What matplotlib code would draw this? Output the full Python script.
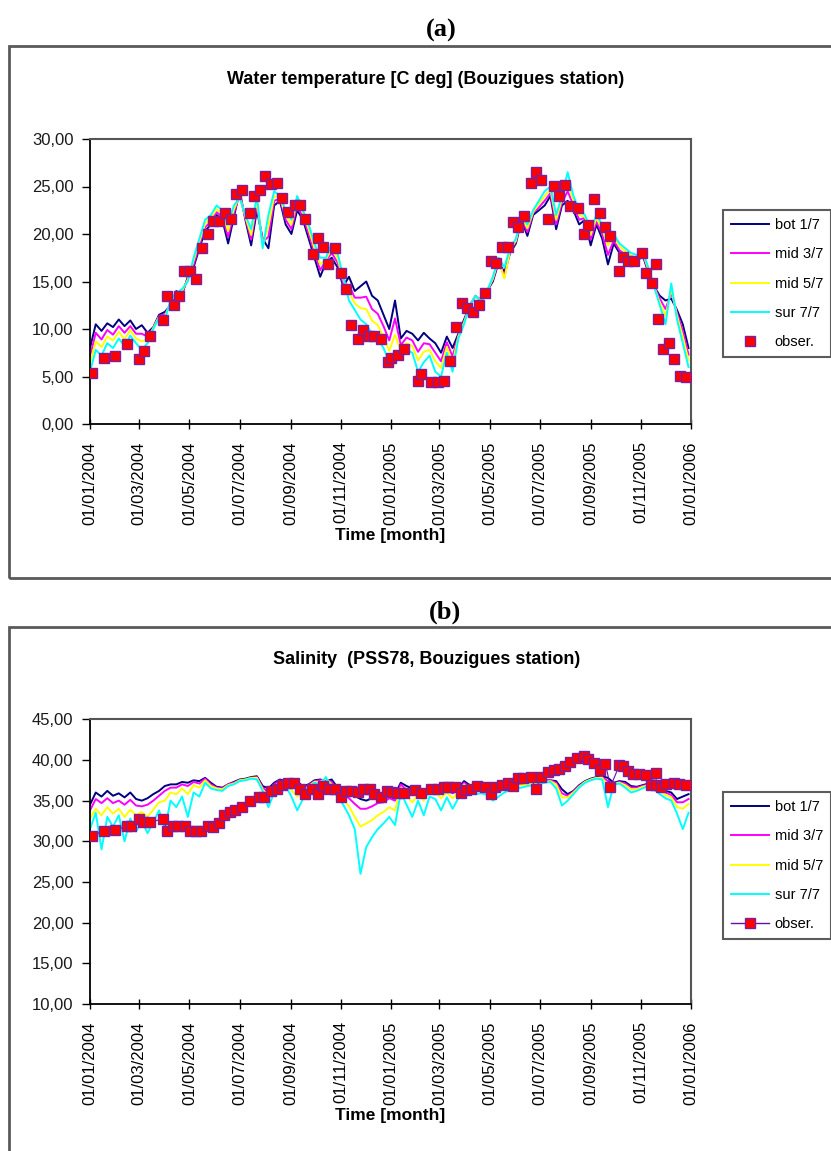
import numpy as np
import pandas as pd
import matplotlib
matplotlib.use("Agg")
import matplotlib.pyplot as plt
import matplotlib.dates as mdates
from matplotlib.patches import Rectangle
from matplotlib.lines import Line2D
from matplotlib.ticker import FuncFormatter, MultipleLocator

plt.rcParams['font.family'] = ['Liberation Sans', 'DejaVu Sans']

# ---------------- data ----------------
start_date = "2004-01-01"
n_weeks = 105  # model output sampled weekly

# Panel (a) : water temperature
temp_bot = [8.0, 10.5, 9.8, 10.6, 10.2, 11.0, 10.3, 10.9, 10.0, 10.4, 9.6, 10.2, 11.5, 11.8, 12.5,
            14.0, 13.6, 15.5, 16.5, 18.5, 20.3, 21.0, 22.0, 21.5, 19.0, 21.8, 24.5, 21.5, 18.8, 22.5,
            19.5, 18.5, 23.0, 23.5, 21.0, 20.0, 22.5, 21.5, 19.5, 17.5, 15.5, 17.0, 17.5, 16.5, 14.5,
            15.5, 14.0, 14.5, 15.0, 13.5, 13.0, 11.5, 10.0, 13.0, 9.0, 9.8, 9.5, 8.8, 9.6, 9.0,
            8.5, 7.5, 9.2, 8.0, 9.5, 11.0, 12.5, 13.5, 13.0, 14.0, 15.0, 17.0, 16.0, 18.0, 19.0,
            21.5, 19.8, 22.0, 22.5, 23.0, 24.0, 20.5, 23.0, 23.5, 22.5, 21.0, 21.5, 18.8, 21.0, 19.5,
            16.8, 19.0, 18.0, 17.5, 17.2, 17.0, 17.8, 16.0, 14.5, 13.5, 13.0, 13.2, 12.0, 10.5, 8.0]
temp_mid3 = [7.1, 9.6, 8.9, 9.9, 9.4, 10.3, 9.6, 10.3, 9.5, 9.5, 9.2, 10.1, 11.4, 11.5, 12.7,
             13.9, 13.8, 15.3, 16.8, 18.8, 20.7, 21.3, 22.3, 21.8, 19.7, 22.2, 24.2, 21.7, 19.4, 23.0,
             19.2, 19.7, 23.5, 23.7, 21.5, 20.5, 23.0, 21.8, 20.0, 18.0, 16.2, 17.2, 18.0, 17.0, 14.8,
             14.6, 13.3, 13.3, 13.4, 12.1, 11.6, 10.3, 8.8, 11.1, 8.3, 9.1, 8.8, 7.6, 8.5, 8.4,
             7.5, 6.6, 8.6, 7.1, 9.3, 10.8, 12.5, 13.5, 12.9, 14.0, 15.2, 17.2, 15.5, 18.2, 19.2,
             21.7, 20.2, 22.2, 22.8, 23.5, 24.3, 21.0, 23.3, 24.5, 23.0, 21.5, 21.7, 19.4, 21.3, 20.0,
             17.8, 19.3, 18.3, 17.8, 17.5, 17.3, 17.9, 16.2, 14.5, 13.2, 12.1, 13.8, 11.7, 9.8, 7.3]
temp_mid5 = [6.4, 8.7, 8.1, 9.2, 8.8, 9.7, 8.9, 9.9, 9.0, 8.7, 8.9, 10.1, 11.3, 11.3, 12.8,
             13.9, 14.0, 15.2, 17.2, 19.2, 21.1, 21.7, 22.6, 22.2, 20.3, 22.6, 24.0, 21.8, 19.9, 23.5,
             18.8, 20.8, 24.0, 23.8, 22.0, 21.0, 23.5, 22.2, 20.5, 18.5, 16.8, 17.3, 18.5, 17.5, 15.2,
             13.9, 12.7, 12.2, 12.1, 10.9, 10.4, 9.2, 7.7, 9.4, 7.7, 8.5, 8.2, 6.7, 7.6, 7.8,
             6.6, 5.9, 8.1, 6.4, 9.2, 10.7, 12.5, 13.5, 12.9, 14.0, 15.3, 17.3, 15.3, 18.3, 19.3,
             21.8, 20.6, 22.3, 23.2, 24.0, 24.7, 21.5, 23.7, 25.5, 23.5, 22.0, 21.8, 19.9, 21.7, 20.5,
             18.8, 19.7, 18.7, 18.2, 17.7, 17.5, 18.1, 16.3, 14.5, 12.8, 11.4, 14.2, 11.4, 9.2, 6.7]
temp_sur = [5.5, 7.8, 7.2, 8.5, 8.0, 9.0, 8.2, 9.3, 8.5, 7.8, 8.5, 10.0, 11.2, 11.0, 13.0,
            13.8, 14.2, 15.0, 17.5, 19.5, 21.5, 22.0, 23.0, 22.5, 21.0, 23.0, 23.8, 22.0, 20.5, 24.0,
            18.5, 22.0, 24.5, 24.0, 22.5, 21.5, 24.0, 22.5, 21.0, 19.0, 17.5, 17.5, 19.0, 18.0, 15.5,
            13.0, 12.0, 11.0, 10.5, 9.5, 9.0, 8.0, 6.5, 7.5, 7.0, 7.8, 7.5, 5.5, 6.5, 7.2,
            5.5, 5.0, 7.5, 5.5, 9.0, 10.5, 12.5, 13.5, 12.8, 14.0, 15.5, 17.5, 16.5, 18.5, 19.5,
            22.0, 21.0, 22.5, 23.5, 24.5, 25.0, 22.0, 24.0, 26.5, 24.0, 22.5, 22.0, 20.5, 22.0, 21.0,
            19.8, 20.0, 19.0, 18.5, 18.0, 17.8, 18.2, 16.5, 14.5, 12.5, 10.5, 14.8, 11.0, 8.5, 6.0]

temp_obs_day = [3, 17, 31, 45, 59, 66, 73, 89, 94, 102, 108, 114, 122, 129, 136, 144, 150, 157,
                164, 171, 178, 185, 195, 200, 207, 213, 220, 227, 234, 241, 249, 256, 262, 271,
                277, 284, 290, 298, 305, 311, 318, 326, 332, 339, 345, 354, 362, 366, 375, 382,
                399, 403, 415, 423, 430, 438, 445, 453, 459, 466, 473, 480, 488, 494, 501, 508,
                515, 521, 528, 536, 542, 549, 557, 564, 571, 578, 584, 593, 601, 606, 613, 620,
                626, 633, 644, 648, 654, 662, 671, 676, 683, 688, 691, 697, 704, 710, 718, 725]
temp_obs = [5.33, 7.0, 7.16, 8.46, 6.84, 7.65, 9.26, 10.95, 13.44, 12.49, 13.44, 16.07, 16.07,
            15.23, 18.56, 20.0, 21.33, 21.33, 22.17, 21.58, 24.2, 24.67, 22.17, 23.96, 24.6, 26.07,
            25.26, 25.33, 23.79, 22.3, 23.02, 23.02, 21.54, 17.93, 19.61, 18.63, 16.88, 18.49,
            15.93, 14.17, 10.42, 8.98, 9.89, 9.26, 9.26, 8.98, 6.56, 6.91, 7.26, 7.89, 4.56, 5.26,
            4.46, 4.46, 4.56, 6.67, 10.25, 12.74, 12.25, 11.82, 12.49, 13.82, 17.19, 16.91, 18.6,
            18.6, 21.23, 20.77, 21.9, 25.37, 26.49, 25.72, 21.54, 25.02, 24.0, 25.16, 22.95, 22.74,
            19.96, 20.95, 23.65, 22.25, 20.77, 19.79, 16.14, 17.54, 17.12, 17.12, 17.96, 15.93,
            14.88, 16.81, 11.05, 7.93, 8.49, 6.81, 5.05, 4.98]

# Panel (b) : salinity
sal_bot = [34.5, 36.0, 35.5, 36.2, 35.6, 35.9, 35.4, 36.0, 35.2, 35.0, 35.3, 35.8, 36.2, 36.8, 37.0,
           37.0, 37.3, 37.2, 37.5, 37.4, 37.8, 37.2, 36.7, 36.6, 37.0, 37.3, 37.6, 37.7, 37.9, 38.0,
           36.8, 36.5, 37.2, 37.6, 37.4, 37.2, 37.3, 36.8, 37.0, 37.5, 37.6, 37.4, 37.6, 36.6, 36.3,
           36.0, 35.6, 35.2, 35.0, 35.3, 35.6, 35.5, 36.0, 35.8, 37.2, 36.8, 36.5, 36.4, 36.3, 36.6,
           36.9, 36.6, 36.5, 36.4, 36.6, 37.4, 36.9, 36.7, 36.7, 36.6, 36.5, 36.6, 36.7, 36.9, 37.0,
           37.1, 37.2, 37.3, 37.4, 37.5, 37.5, 37.4, 36.4, 35.8, 36.2, 36.9, 37.4, 37.7, 37.9, 38.0,
           37.8, 37.2, 37.4, 37.3, 36.8, 36.7, 36.9, 37.1, 37.0, 36.6, 36.2, 36.0, 35.2, 35.5, 35.8]
sal_mid3 = [33.8, 35.2, 34.7, 35.3, 34.7, 35.0, 34.5, 35.1, 34.4, 34.3, 34.5, 35.0, 35.6, 36.2, 36.6,
            36.6, 37.0, 36.8, 37.3, 37.1, 37.7, 37.0, 36.6, 36.5, 37.0, 37.2, 37.5, 37.6, 37.8, 37.9,
            36.6, 36.0, 37.0, 37.5, 37.2, 36.8, 36.7, 36.5, 36.9, 37.4, 37.5, 37.5, 37.3, 36.3, 35.8,
            35.3, 34.6, 34.0, 34.0, 34.3, 34.7, 34.8, 35.3, 35.0, 37.0, 36.3, 35.8, 36.1, 35.7, 36.4,
            36.5, 36.0, 36.3, 35.9, 36.3, 37.2, 36.7, 36.5, 36.5, 36.4, 36.2, 36.4, 36.5, 36.8, 36.9,
            37.0, 37.1, 37.2, 37.3, 37.4, 37.5, 37.2, 35.9, 35.6, 36.1, 36.8, 37.3, 37.6, 37.8, 37.9,
            37.4, 37.1, 37.3, 37.1, 36.6, 36.6, 36.8, 37.0, 36.8, 36.4, 36.0, 35.7, 34.8, 34.8, 35.2]
sal_mid5 = [32.8, 34.0, 33.2, 34.2, 33.4, 34.0, 33.0, 33.9, 33.2, 33.6, 33.0, 33.9, 34.8, 35.0, 36.0,
            35.8, 36.5, 35.8, 36.9, 36.6, 37.5, 36.8, 36.5, 36.4, 36.9, 37.1, 37.5, 37.6, 37.8, 37.8,
            36.4, 35.3, 36.6, 37.4, 37.0, 36.3, 35.5, 36.0, 36.8, 37.3, 37.3, 37.7, 37.0, 36.0, 35.2,
            34.3, 33.0, 31.8, 32.2, 32.6, 33.2, 33.6, 34.2, 33.8, 36.6, 35.6, 34.8, 35.7, 35.0, 36.1,
            36.0, 35.3, 36.0, 35.3, 36.0, 37.0, 36.5, 36.3, 36.3, 36.2, 35.8, 36.1, 36.4, 36.6, 36.8,
            36.9, 37.0, 37.1, 37.2, 37.3, 37.4, 37.0, 35.4, 35.4, 36.0, 36.7, 37.3, 37.6, 37.8, 37.8,
            36.8, 37.1, 37.2, 36.9, 36.4, 36.4, 36.7, 36.9, 36.7, 36.2, 35.7, 35.4, 34.2, 34.0, 34.6]
sal_sur = [31.5, 33.5, 29.0, 33.0, 31.8, 33.2, 30.0, 32.8, 31.2, 32.5, 31.0, 32.4, 33.8, 31.5, 35.0,
           34.2, 35.5, 33.0, 36.0, 35.5, 37.2, 36.5, 36.3, 36.2, 36.8, 37.0, 37.4, 37.5, 37.7, 37.6,
           36.2, 34.2, 36.0, 37.2, 36.8, 35.5, 33.8, 35.2, 36.6, 37.2, 37.0, 37.9, 36.4, 35.5, 34.5,
           33.2, 31.5, 26.0, 29.3, 30.5, 31.5, 32.2, 33.0, 32.0, 36.0, 34.5, 33.0, 35.0, 33.2, 35.5,
           35.2, 33.8, 35.4, 34.0, 35.3, 36.6, 36.0, 35.8, 35.9, 35.7, 35.0, 35.5, 36.0, 36.3, 36.5,
           36.6, 36.8, 36.9, 37.0, 37.2, 37.3, 36.5, 34.4, 35.0, 35.8, 36.6, 37.2, 37.5, 37.7, 37.6,
           34.2, 37.0, 37.1, 36.6, 36.0, 36.2, 36.5, 36.8, 36.4, 35.8, 35.3, 35.0, 33.4, 31.5, 33.5]

sal_obs_day = [3, 17, 31, 45, 50, 59, 65, 73, 89, 94, 101, 107, 115, 122, 129, 135, 143, 150, 157,
               163, 170, 176, 185, 195, 206, 212, 220, 227, 234, 241, 248, 256, 262, 270, 277, 284,
               291, 298, 305, 311, 318, 326, 332, 340, 346, 354, 361, 366, 374, 382, 395, 403, 415,
               423, 430, 436, 444, 451, 457, 464, 471, 480, 488, 493, 501, 508, 515, 520, 527, 536,
               542, 549, 557, 564, 571, 578, 584, 592, 601, 606, 613, 620, 627, 633, 644, 648, 654,
               660, 668, 676, 682, 688, 689, 695, 701, 710, 717, 725]
sal_obs = [30.69, 31.3, 31.39, 31.88, 31.88, 32.78, 32.34, 32.34, 32.78, 31.3, 31.88, 31.88, 31.88,
           31.3, 31.3, 31.3, 31.88, 31.72, 32.29, 33.24, 33.57, 33.81, 34.18, 34.96, 35.41, 35.48,
           36.22, 36.47, 36.88, 37.2, 37.2, 36.43, 35.78, 36.43, 35.78, 36.8, 36.47, 36.47, 35.41,
           36.22, 36.22, 36.1, 36.47, 36.47, 35.78, 35.41, 36.22, 36.03, 35.9, 35.9, 36.27, 35.9,
           36.47, 36.47, 36.71, 36.71, 36.71, 35.9, 36.31, 36.43, 36.8, 36.71, 35.78, 36.71, 36.92,
           37.2, 36.84, 37.74, 37.74, 37.87, 36.47, 37.87, 38.56, 38.77, 38.89, 39.26, 39.71, 40.2,
           40.53, 40.12, 39.59, 38.73, 39.5, 36.71, 39.38, 39.26, 38.64, 38.27, 38.23, 38.12, 36.88,
           38.4, 36.88, 36.71, 37.01, 37.13, 37.01, 36.88]

series_labels = ["bot 1/7", "mid 3/7", "mid 5/7", "sur 7/7", "obser."]
series_colors = ["#000080", "#FF00FF", "#FFFF00", "#00FFFF"]

# ---------------- figure ----------------
W, H = 831, 1151
fig = plt.figure(figsize=(W / 100, H / 100), dpi=100)

def fx(px):
    return px / W

def fy(py):
    return 1 - py / H

model_dates = pd.date_range(start_date, periods=n_weeks, freq="7D")
t0 = pd.Timestamp(start_date)

def comma_fmt(v, pos):
    return f"{v:.2f}".replace(".", ",")

def setup_axes(ax, ymin, ymax):
    ax.set_xlim(pd.Timestamp("2004-01-01"), pd.Timestamp("2006-01-01"))
    ax.set_ylim(ymin, ymax)
    ax.yaxis.set_major_locator(MultipleLocator(5))
    ax.yaxis.set_major_formatter(FuncFormatter(comma_fmt))
    ax.xaxis.set_major_locator(mdates.MonthLocator(bymonth=[1, 3, 5, 7, 9, 11], bymonthday=1))
    ax.xaxis.set_major_formatter(mdates.DateFormatter("%d/%m/%Y"))
    ax.tick_params(axis="x", direction="inout", length=7, width=1, labelsize=12,
                   rotation=90, pad=9, colors="black")
    ax.tick_params(axis="y", direction="out", length=6, width=1, labelsize=12, pad=6)
    for lab in ax.get_yticklabels():
        lab.set_color("#1a1a1a")
    ax.spines["left"].set_color("black")
    ax.spines["bottom"].set_color("black")
    ax.spines["left"].set_linewidth(1.3)
    ax.spines["bottom"].set_linewidth(1.3)
    ax.spines["top"].set_color("#555555")
    ax.spines["right"].set_color("#555555")
    ax.spines["top"].set_linewidth(1.5)
    ax.spines["right"].set_linewidth(1.5)
    ax.set_xlabel("Time [month]", fontsize=12.5, fontweight="bold", labelpad=2)

def draw_panel(ax, series, obs_day, obs_val, obs_line):
    for vals, col, lab in zip(series, series_colors, series_labels):
        ax.plot(model_dates, vals, color=col, lw=1.4, label=lab, zorder=2)
    obs_dates = [t0 + pd.Timedelta(days=d) for d in obs_day]
    ax.plot(obs_dates, obs_val, linestyle="-" if obs_line else "none",
            color="#6A0DAD", lw=0.8, marker="s", markersize=7.5,
            markerfacecolor="#FF0000", markeredgecolor="#7B1FA2", markeredgewidth=1.0,
            label=series_labels[4], zorder=3)

def add_legend(ax, top_px, obs_line):
    handles = [Line2D([], [], color=c, lw=1.4) for c in series_colors]
    handles.append(Line2D([], [], color="#6A0DAD", lw=1.0 if obs_line else 0,
                          linestyle="-" if obs_line else "none", marker="s", markersize=7.5,
                          markerfacecolor="#FF0000", markeredgecolor="#7B1FA2"))
    leg = fig.legend(handles, series_labels, loc="upper left",
                     bbox_to_anchor=(fx(723), fy(top_px)), borderaxespad=0,
                     fontsize=10.5, frameon=True, fancybox=False, shadow=False,
                     handlelength=2.6, handletextpad=0.4, labelspacing=1.05,
                     borderpad=0.55)
    leg.get_frame().set_edgecolor("#333333")
    leg.get_frame().set_linewidth(1.5)

# outer frames
fig.add_artist(Rectangle((fx(9), fy(578)), 1.0, fy(46) - fy(578), transform=fig.transFigure,
                         fill=False, edgecolor="#5a5a5a", linewidth=2))
fig.add_artist(Rectangle((fx(9), -0.05), 1.0, fy(627) + 0.05, transform=fig.transFigure,
                         fill=False, edgecolor="#5a5a5a", linewidth=2))

# panel labels
fig.text(fx(441), fy(30), "(a)", ha="center", va="center", fontsize=19, fontweight="bold",
         family=["Liberation Serif", "DejaVu Serif"])
fig.text(fx(445), fy(612), "(b)", ha="center", va="center", fontsize=19, fontweight="bold",
         family=["Liberation Serif", "DejaVu Serif"])

# chart titles
fig.text(fx(426), fy(79), "Water temperature [C deg] (Bouzigues station)", ha="center",
         va="center", fontsize=13, fontweight="bold")
fig.text(fx(427), fy(660), "Salinity  (PSS78, Bouzigues station)", ha="center",
         va="center", fontsize=13, fontweight="bold")

# panel (a)
ax1 = fig.add_axes([fx(90), fy(424), fx(691) - fx(90), fy(139) - fy(424)])
draw_panel(ax1, [temp_bot, temp_mid3, temp_mid5, temp_sur], temp_obs_day, temp_obs, False)
setup_axes(ax1, 0, 30)
add_legend(ax1, 210, False)

# panel (b)
ax2 = fig.add_axes([fx(90), fy(1004), fx(691) - fx(90), fy(719.3) - fy(1004)])
draw_panel(ax2, [sal_bot, sal_mid3, sal_mid5, sal_sur], sal_obs_day, sal_obs, True)
setup_axes(ax2, 10, 45)
add_legend(ax2, 792, True)

fig.savefig("out.png", dpi=100)
